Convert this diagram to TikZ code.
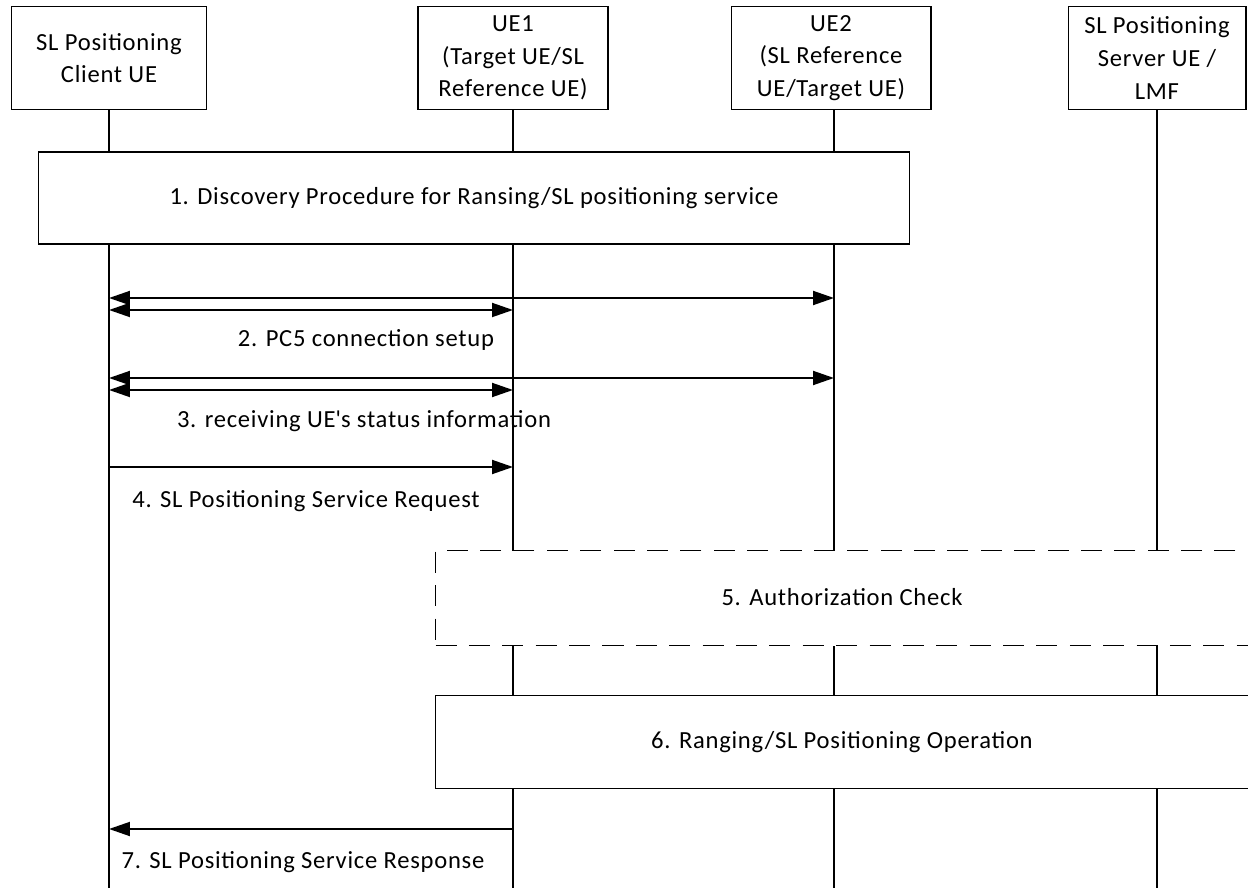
\documentclass[tikz,border=0pt]{standalone}
\usepackage{fontspec}
\setmainfont{Carlito}[LetterSpace=3]
\usetikzlibrary{arrows.meta,positioning}

\begin{document}
\begin{tikzpicture}[x=0.02cm,y=-0.02cm,font=\fontsize{14}{18.5}\selectfont,
entity/.style={draw, fill=white, line width=0.6pt, minimum width=3.9cm, minimum height=2.06cm, align=center, inner sep=1pt},
lifeline/.style={line width=0.6pt},
stepbox/.style={draw, fill=white, line width=0.6pt, minimum height=1.86cm, inner sep=0pt},
dashbox/.style={stepbox, dash pattern=on 12pt off 7pt},
msg/.style={line width=1.1pt, -{Triangle[length=0.42cm,width=0.28cm]}},
dmsg/.style={msg, {Triangle[length=0.42cm,width=0.28cm]}-{Triangle[length=0.42cm,width=0.28cm]}}]
\useasboundingbox (0,0) rectangle (1248,888);

\node[entity] (client) at (109,58) {SL Positioning\\Client UE};
\node[entity, minimum width=3.8cm] (ue1) at (513,58) {UE1\\(Target UE/SL\\Reference UE)};
\node[entity, minimum width=4cm] (ue2) at (831,58) {UE2\\(SL Reference\\UE/Target UE)};
\node[entity, minimum width=3.56cm] (server) at (1157,58) {SL Positioning\\Server UE /\\LMF};

\foreach \n/\x in {client/109,ue1/513,ue2/834,server/1157} {
  \coordinate (\n-end) at (\x,888);
  \coordinate (\n-2a) at (\x,298);
  \coordinate (\n-2b) at (\x,310);
  \coordinate (\n-3a) at (\x,378);
  \coordinate (\n-3b) at (\x,390);
  \coordinate (\n-4) at (\x,467);
  \coordinate (\n-7) at (\x,829);
  \draw[lifeline] (\x,110) -- (\n-end);
}

\node[stepbox, minimum width=17.44cm, minimum height=1.84cm] (discovery) at (474,198)
  {1. Discovery Procedure for Ransing/SL positioning service};

\draw[dmsg] (client-2a) -- (ue2-2a);
\draw[dmsg] (client-2b) -- (ue1-2b);
\node (pc5) at (366,340) {2. PC5 connection setup};

\draw[dmsg] (client-3a) -- (ue2-3a);
\draw[dmsg] (client-3b) -- (ue1-3b);
\node (status) at (364,421) {3. receiving UE\textquotesingle s status information};

\draw[msg] (client-4) -- (ue1-4);
\node (request) at (306,501) {4. SL Positioning Service Request};

\node[dashbox, minimum width=16.4cm, minimum height=1.9cm, anchor=north west] (auth) at (435,550) {};
\node (authtext) at (842,597) {5. Authorization Check};

\node[stepbox, minimum width=16.4cm, anchor=north west] (ranging) at (435,695) {};
\node (rangingtext) at (842,742) {6. Ranging/SL Positioning Operation};

\draw[msg] (ue1-7) -- (client-7);
\node (response) at (303,862) {7. SL Positioning Service Response};
\end{tikzpicture}
\end{document}
